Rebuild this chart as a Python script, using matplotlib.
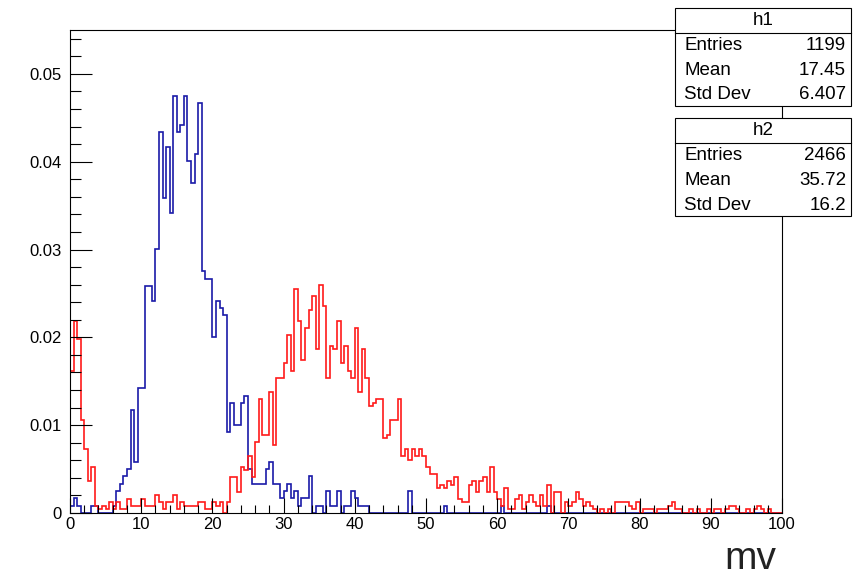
import numpy as np
import matplotlib
matplotlib.use("Agg")
import matplotlib.pyplot as plt
from matplotlib.patches import Rectangle
from matplotlib.ticker import MultipleLocator

plt.rcParams['font.family'] = ['Liberation Sans', 'DejaVu Sans']

# ---- data (counts per 0.5-wide bin; histograms are normalised) ----
x_min, x_max, n_bins = 0.0, 100.0, 200

h1_entries = 1199
h1_mean = "17.45"
h1_std = "6.407"
h1_counts = [
    1, 2, 1, 0, 0, 0, 1, 1, 0, 0, 0, 0, 1, 3, 4, 5, 6, 14, 7, 17,
    17, 31, 31, 29, 36, 52, 43, 50, 41, 57, 52, 53, 57, 48, 45, 49, 56, 33, 32, 32,
    24, 29, 28, 27, 11, 15, 12, 12, 15, 16, 6, 4, 4, 4, 4, 6, 7, 4, 4, 2,
    3, 4, 2, 3, 1, 2, 2, 5, 0, 1, 1, 0, 3, 1, 1, 3, 0, 1, 1, 3,
    2, 1, 1, 1, 0, 0, 0, 0, 0, 0, 0, 0, 0, 0, 0, 3, 0, 0, 0, 0,
    0, 0, 0, 0, 0, 1, 0, 0, 0, 0, 0, 0, 0, 0, 0, 0, 0, 0, 0, 0,
    0, 1, 0, 0, 0, 0, 0, 0, 0, 0, 0, 0, 0, 0, 1, 0, 0, 0, 0, 0,
    0, 0, 0, 0, 0, 0, 0, 0, 0, 0, 0, 0, 0, 0, 0, 0, 0, 0, 0, 0,
    0, 0, 0, 0, 0, 0, 0, 0, 0, 0, 0, 0, 0, 0, 0, 0, 0, 0, 0, 0,
    0, 0, 0, 0, 0, 0, 0, 0, 0, 0, 0, 0, 0, 0, 0, 0, 0, 0, 0, 0,
]

h2_entries = 2466
h2_mean = "35.72"
h2_std = "16.2"
h2_counts = [
    40, 54, 49, 26, 18, 9, 13, 2, 1, 2, 1, 3, 1, 3, 1, 1, 4, 2, 2, 2,
    4, 2, 2, 2, 5, 3, 1, 3, 3, 5, 1, 3, 2, 2, 2, 2, 3, 3, 1, 1,
    3, 2, 3, 0, 3, 10, 10, 6, 13, 12, 16, 10, 20, 32, 22, 22, 34, 19, 38, 38,
    42, 50, 40, 63, 54, 43, 52, 57, 61, 46, 64, 58, 38, 47, 46, 54, 42, 47, 40, 38,
    52, 34, 46, 38, 30, 31, 32, 32, 21, 22, 26, 26, 32, 16, 18, 15, 18, 16, 18, 16,
    13, 11, 11, 7, 8, 7, 9, 8, 10, 4, 3, 3, 8, 9, 6, 9, 10, 6, 13, 6,
    4, 2, 7, 1, 1, 4, 5, 1, 3, 5, 3, 2, 5, 2, 8, 0, 6, 6, 0, 3,
    2, 3, 6, 4, 2, 3, 2, 1, 0, 1, 0, 1, 0, 3, 3, 3, 3, 2, 1, 3,
    0, 1, 1, 1, 0, 1, 1, 1, 2, 3, 1, 1, 0, 0, 1, 0, 1, 0, 0, 1,
    0, 1, 1, 0, 1, 2, 2, 1, 0, 0, 1, 0, 1, 2, 1, 0, 1, 0, 0, 0,
]

x_ticks = [0, 10, 20, 30, 40, 50, 60, 70, 80, 90, 100]
y_ticks = [0, 0.01, 0.02, 0.03, 0.04, 0.05]
y_tick_labels = ["0", "0.01", "0.02", "0.03", "0.04", "0.05"]
x_label = "mv"

# ---- figure ----
W, H = 861, 577
fig = plt.figure(figsize=(W / 100, H / 100), dpi=100)
fig.patch.set_facecolor("white")

def fx(px):
    return px / W

def fy(py):
    return 1 - py / H

ax = fig.add_axes([fx(70), fy(513), fx(782) - fx(70), fy(30) - fy(513)])

edges = np.linspace(x_min, x_max, n_bins + 1)
v1 = np.array(h1_counts, dtype=float) / h1_entries
v2 = np.array(h2_counts, dtype=float) / h2_entries

ax.stairs(v1, edges, color="#1a1aa8", linewidth=1.2, baseline=0)
ax.stairs(v2, edges, color="#ff1a1a", linewidth=1.2, baseline=0)

ax.set_xlim(x_min, x_max)
ax.set_ylim(0, 0.0550)

ax.set_xticks(x_ticks)
ax.set_xticklabels([str(t) for t in x_ticks])
ax.xaxis.set_minor_locator(MultipleLocator(2))
ax.set_yticks(y_ticks)
ax.set_yticklabels(y_tick_labels)
ax.yaxis.set_minor_locator(MultipleLocator(0.002))

ax.tick_params(axis="x", which="major", direction="in", length=10.5, width=0.8,
               labelsize=12, pad=3, top=False)
ax.tick_params(axis="x", which="minor", direction="in", length=5.5, width=0.8, top=False)
ax.tick_params(axis="y", which="major", direction="in", length=15.5, width=0.8,
               labelsize=12, pad=6, right=False)
ax.tick_params(axis="y", which="minor", direction="in", length=8, width=0.8, right=False)
for s in ax.spines.values():
    s.set_linewidth(0.8)
    s.set_color("black")

fig.text(fx(776), fy(569), x_label, ha="right", va="baseline", fontsize=28,
         color="#222222")

# ---- stat boxes ----
def stat_box(top, name, entries, mean, std):
    left, right = 675, 851
    bottom = top + 98
    fig.patches.append(Rectangle((fx(left), fy(bottom)), fx(right) - fx(left),
                                 fy(top) - fy(bottom), transform=fig.transFigure,
                                 facecolor="white", edgecolor="black", linewidth=0.8,
                                 zorder=5))
    fig.lines.append(plt.Line2D([fx(left), fx(right)], [fy(top + 25), fy(top + 25)],
                                transform=fig.transFigure, color="black",
                                linewidth=0.8, zorder=6))
    fig.text(fx((left + right) / 2), fy(top + 12.5), name, ha="center", va="center",
             fontsize=13.5, zorder=7)
    rows = [("Entries", str(entries)), ("Mean", mean), ("Std Dev", std)]
    for i, (lab, val) in enumerate(rows):
        yy = fy(top + 38 + 24.5 * i)
        fig.text(fx(684), yy, lab, ha="left", va="center", fontsize=13.5, zorder=7)
        fig.text(fx(846), yy, val, ha="right", va="center", fontsize=13.5, zorder=7)

stat_box(8, "h1", h1_entries, h1_mean, h1_std)
stat_box(118, "h2", h2_entries, h2_mean, h2_std)

fig.savefig("out.png", dpi=100)
